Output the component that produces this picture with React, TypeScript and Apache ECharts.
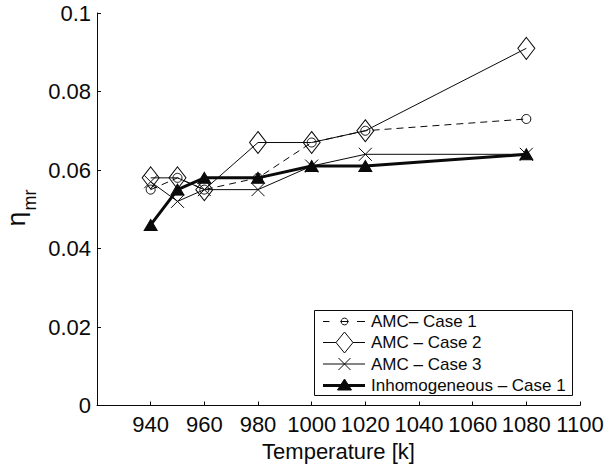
import React, { useEffect, useRef } from "react";
import * as echarts from "echarts";

const temperatures = [940, 950, 960, 980, 1000, 1020, 1080];
const amcCase1 = [0.055, 0.058, 0.055, 0.058, 0.067, 0.07, 0.073];
const amcCase2 = [0.058, 0.058, 0.055, 0.067, 0.067, 0.07, 0.091];
const amcCase3 = [0.057, 0.052, 0.055, 0.055, 0.061, 0.064, 0.064];
const inhomCase1 = [0.046, 0.055, 0.058, 0.058, 0.061, 0.061, 0.064];
const seriesNames = ["AMC– Case 1", "AMC – Case 2", "AMC – Case 3", "Inhomogeneous – Case 1"];
const xAxisRange = { min: 920, max: 1100, interval: 20 };
const yAxisRange = { min: 0, max: 0.1, interval: 0.02 };
const xTitle = "Temperature [k]";
const yTitleMain = "η";
const yTitleSub = "mr";

const INK = "#0a0a0a";
const FONT = "'Liberation Sans', Arial, Helvetica, sans-serif";
const CROSS = "path://M0,0L13,13M13,0L0,13";

const pairs = (ys: number[]) => temperatures.map((t, i) => [t, ys[i]]);

export default function App() {
  const ref = useRef<HTMLDivElement>(null);
  useEffect(() => {
    if (!ref.current) return;
    const chart = echarts.init(ref.current, undefined, { renderer: "svg" });
    const rows = [321.5, 342.5, 364, 385.5];
    const lx0 = 323;
    const lx1 = 365;
    const cx = 344.5;
    const textX = 371;
    const legendGraphics: any[] = [
      {
        type: "rect",
        shape: { x: 314.5, y: 310.5, width: 258, height: 85 },
        style: { fill: "#fff", stroke: INK, lineWidth: 1 },
        z: 100,
      },
      { type: "line", shape: { x1: lx0, y1: rows[0], x2: lx0 + 6.5, y2: rows[0] }, style: { stroke: INK, lineWidth: 1 }, z: 101 },
      { type: "line", shape: { x1: cx - 4, y1: rows[0], x2: cx + 4, y2: rows[0] }, style: { stroke: INK, lineWidth: 1 }, z: 101 },
      { type: "line", shape: { x1: lx1 - 8, y1: rows[0], x2: lx1, y2: rows[0] }, style: { stroke: INK, lineWidth: 1 }, z: 101 },
      { type: "circle", shape: { cx, cy: rows[0], r: 3.4 }, style: { fill: "none", stroke: INK, lineWidth: 1 }, z: 102 },
      { type: "line", shape: { x1: lx0, y1: rows[1], x2: lx1, y2: rows[1] }, style: { stroke: INK, lineWidth: 1 }, z: 101 },
      {
        type: "polygon",
        shape: { points: [[cx, rows[1] - 10.5], [cx + 8.5, rows[1]], [cx, rows[1] + 10.5], [cx - 8.5, rows[1]]] },
        style: { fill: "#fff", stroke: INK, lineWidth: 1 },
        z: 102,
      },
      { type: "line", shape: { x1: lx0, y1: rows[2], x2: lx1, y2: rows[2] }, style: { stroke: INK, lineWidth: 1 }, z: 101 },
      { type: "line", shape: { x1: cx - 6, y1: rows[2] - 6, x2: cx + 6, y2: rows[2] + 6 }, style: { stroke: INK, lineWidth: 1 }, z: 102 },
      { type: "line", shape: { x1: cx - 6, y1: rows[2] + 6, x2: cx + 6, y2: rows[2] - 6 }, style: { stroke: INK, lineWidth: 1 }, z: 102 },
      { type: "line", shape: { x1: lx0, y1: rows[3], x2: lx1, y2: rows[3] }, style: { stroke: INK, lineWidth: 3 }, z: 101 },
      {
        type: "polygon",
        shape: { points: [[cx, rows[3] - 6.5], [cx + 7, rows[3] + 4.5], [cx - 7, rows[3] + 4.5]] },
        style: { fill: INK, stroke: INK, lineWidth: 1 },
        z: 102,
      },
      ...seriesNames.map((name, i) => ({
        type: "text",
        x: textX,
        y: rows[i],
        style: { text: name, font: `17px ${FONT}`, fill: INK, textAlign: "left", textVerticalAlign: "middle" },
        z: 102,
      })),
      {
        type: "text",
        x: 16,
        y: 219,
        rotation: Math.PI / 2,
        style: { text: yTitleMain, font: `26px ${FONT}`, fill: INK, textAlign: "center", textVerticalAlign: "middle" },
      },
      {
        type: "text",
        x: 30,
        y: 200,
        rotation: Math.PI / 2,
        style: { text: yTitleSub, font: `18px ${FONT}`, fill: INK, textAlign: "center", textVerticalAlign: "middle" },
      },
    ];

    chart.setOption({
      animation: false,
      backgroundColor: "#fff",
      textStyle: { fontFamily: FONT },
      grid: { left: 97, right: 32, top: 13, bottom: 64.5, containLabel: false },
      xAxis: {
        type: "value",
        min: xAxisRange.min,
        max: xAxisRange.max,
        interval: xAxisRange.interval,
        name: xTitle,
        nameLocation: "middle",
        nameGap: 25,
        nameTextStyle: { fontSize: 22, color: INK, fontFamily: FONT },
        axisLine: { show: true, lineStyle: { color: INK, width: 1 } },
        axisTick: { show: true, inside: true, length: 4, lineStyle: { color: INK } },
        axisLabel: {
          showMinLabel: false,
          showMaxLabel: true,
          hideOverlap: false,
          formatter: (v: number) => String(v),
          fontSize: 22,
          color: INK,
          margin: 8,
          fontFamily: FONT,
        },
        splitLine: { show: false },
      },
      yAxis: {
        type: "value",
        min: yAxisRange.min,
        max: yAxisRange.max,
        interval: yAxisRange.interval,
        axisLine: { show: true, lineStyle: { color: INK, width: 1 } },
        axisTick: { show: true, inside: true, length: 4, lineStyle: { color: INK } },
        axisLabel: { fontSize: 22, color: INK, margin: 6, fontFamily: FONT },
        splitLine: { show: false },
      },
      series: [
        {
          name: seriesNames[0],
          type: "line",
          data: pairs(amcCase1),
          symbol: "circle",
          symbolSize: 9,
          lineStyle: { color: INK, width: 1, type: [7, 5] },
          itemStyle: { color: "rgba(0,0,0,0)", borderColor: INK, borderWidth: 1 },
          z: 2,
        },
        {
          name: seriesNames[1],
          type: "line",
          data: pairs(amcCase2),
          symbol: "diamond",
          symbolSize: [17, 22],
          lineStyle: { color: INK, width: 1 },
          itemStyle: { color: "rgba(0,0,0,0)", borderColor: INK, borderWidth: 1 },
          z: 3,
        },
        {
          name: seriesNames[2],
          type: "line",
          data: pairs(amcCase3),
          symbol: CROSS,
          symbolSize: 13,
          lineStyle: { color: INK, width: 1 },
          itemStyle: { color: "rgba(0,0,0,0)", borderColor: INK, borderWidth: 1 },
          z: 4,
        },
        {
          name: seriesNames[3],
          type: "line",
          data: pairs(inhomCase1),
          symbol: "triangle",
          symbolSize: [13, 11],
          lineStyle: { color: INK, width: 3 },
          itemStyle: { color: INK, borderColor: INK, borderWidth: 1 },
          z: 5,
        },
      ],
      graphic: legendGraphics,
    });
    return () => chart.dispose();
  }, []);
  return <div ref={ref} style={{ position: "fixed", left: 0, top: 0, width: 612, height: 470 }} />;
}
